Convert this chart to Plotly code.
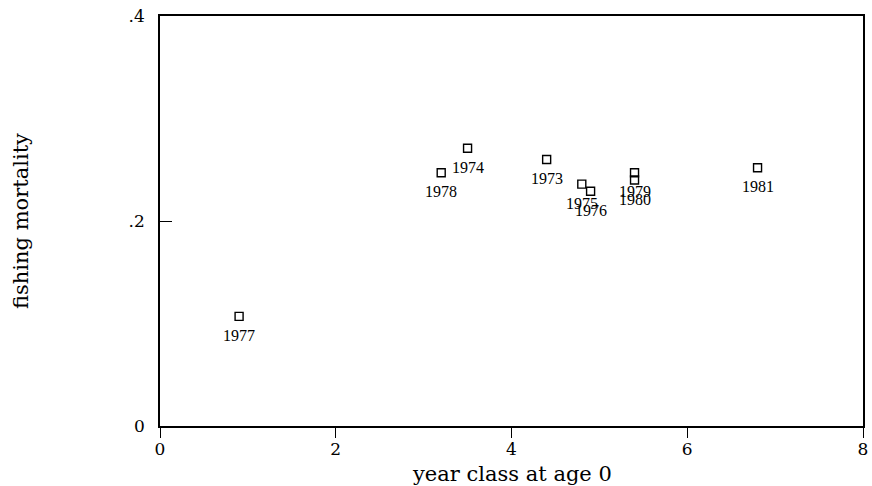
import plotly.graph_objects as go

# Fishing mortality by year class
years = ["1977", "1978", "1974", "1973", "1975", "1976", "1979", "1980", "1981"]
age0 = [0.9, 3.2, 3.5, 4.4, 4.8, 4.9, 5.4, 5.4, 6.8]
mortality = [0.107, 0.247, 0.271, 0.260, 0.236, 0.229, 0.247, 0.240, 0.252]

x_ticks = [0, 2, 4, 6, 8]
y_ticks = [0, 0.2, 0.4]
y_ticktext = ["0", ".2", ".4"]

AX_FONT = dict(family="DejaVu Serif", size=17, color="black")
LBL_FONT = dict(family="Liberation Serif", size=16, color="black")
TITLE_FONT = dict(family="DejaVu Serif", size=21, color="black")

fig = go.Figure()
fig.add_trace(go.Scatter(
    x=age0, y=mortality, mode="markers",
    marker=dict(symbol="square-open", size=8, color="black", line=dict(width=1.4)),
    hoverinfo="skip", showlegend=False,
))

annotations = [
    dict(x=x, y=y, text=t, showarrow=False, xref="x", yref="y",
         yshift=-19, font=LBL_FONT, xanchor="center", yanchor="middle")
    for x, y, t in zip(age0, mortality, years)
]
annotations.append(dict(
    text="year class at age 0", xref="paper", yref="paper",
    x=(514 - 160) / 708, y=-48 / 410, showarrow=False, font=TITLE_FONT,
    xanchor="center", yanchor="middle"))
annotations.append(dict(
    text="fishing mortality", xref="paper", yref="paper",
    x=(20 - 160) / 708, y=(426 - 221) / 410, showarrow=False, textangle=-90,
    font=TITLE_FONT, xanchor="center", yanchor="middle"))

fig.update_layout(
    width=872, height=486,
    margin=dict(l=160, r=4, t=16, b=60),
    paper_bgcolor="white", plot_bgcolor="white",
    annotations=annotations,
    xaxis=dict(
        range=[0, 8], tickvals=x_ticks, ticks="outside", ticklen=10,
        tickwidth=1.3, tickcolor="black", showgrid=False, zeroline=False,
        showline=True, linecolor="black", linewidth=1.5, mirror=True,
        tickfont=AX_FONT, ticklabelstandoff=-3,
    ),
    yaxis=dict(
        range=[0, 0.4], tickvals=y_ticks, ticktext=y_ticktext, ticks="inside",
        ticklen=12, tickwidth=1.3, tickcolor="black", showgrid=False,
        zeroline=False, showline=True, linecolor="black", linewidth=1.5,
        mirror=True, tickfont=AX_FONT, ticklabelstandoff=10,
    ),
)

fig.write_html("out.html")
